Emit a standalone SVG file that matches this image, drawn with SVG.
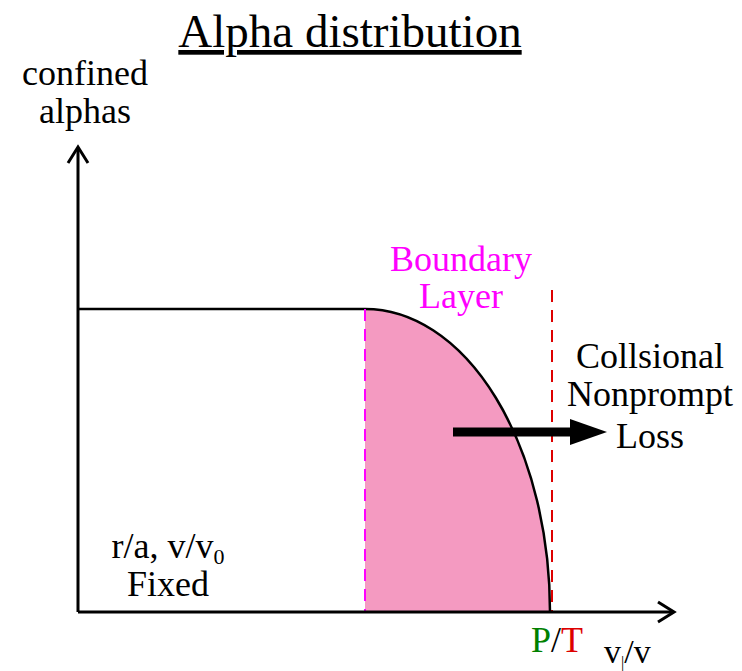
<svg xmlns="http://www.w3.org/2000/svg" width="742" height="671" viewBox="0 0 742 671">
<style>
text{font-family:"Liberation Serif","Times New Roman",serif;font-size:36px;fill:#000}
.c{text-anchor:middle}
.ax{fill:none;stroke:#000;stroke-width:3}
</style>
<rect width="742" height="671" fill="#fff"/>
<g id="title"><text class="c" x="350" y="47" style="font-size:47px;text-decoration:underline">Alpha distribution</text></g>
<g id="region">
<path d="M365,309 A185,303 0 0 1 550,612 L365,612 Z" fill="#f49ac1"/>
<path d="M365,309 A185,303 0 0 1 550,612" fill="none" stroke="#000" stroke-width="2.5"/>
<line x1="78" y1="309" x2="365" y2="309" stroke="#000" stroke-width="2.5"/>
</g>
<g id="connectors">
<line x1="365" y1="309" x2="365" y2="612" stroke="#ff00ff" stroke-width="2" stroke-dasharray="12,8"/>
<line x1="552" y1="290" x2="552" y2="612" stroke="#dd0000" stroke-width="2" stroke-dasharray="12,8"/>
<polyline class="ax" points="78,612 78,148"/>
<polyline class="ax" points="68,163 78,147 88,163"/>
<polyline class="ax" points="78,612 673,612"/>
<polyline class="ax" points="658,602 674,612 658,622"/>
<line x1="453" y1="432" x2="575" y2="432" stroke="#000" stroke-width="9"/>
<polygon points="570,419 607,432 570,445" fill="#000"/>
</g>
<g id="ylabel"><text class="c" x="85" y="85">confined</text><text class="c" x="85" y="123">alphas</text></g>
<g id="boundary"><text class="c" x="461" y="271" style="fill:#ff00ff">Boundary</text><text class="c" x="461" y="308" style="fill:#ff00ff">Layer</text></g>
<g id="loss"><text class="c" x="650" y="368">Collsional</text><text class="c" x="650" y="406">Nonprompt</text><text class="c" x="650" y="448">Loss</text></g>
<g id="fixed"><text class="c" x="168" y="558">r/a, v/v<tspan dy="6" style="font-size:22px">0</tspan></text><text class="c" x="168" y="596">Fixed</text></g>
<g id="pt"><text x="531" y="652"><tspan style="fill:#008000">P</tspan>/<tspan style="fill:#dd0000">T</tspan></text></g>
<g id="xlabel"><text x="604" y="663" style="font-size:34px">v<tspan dy="5" style="font-size:16px">|</tspan><tspan dy="-5">/v</tspan></text></g>
</svg>
